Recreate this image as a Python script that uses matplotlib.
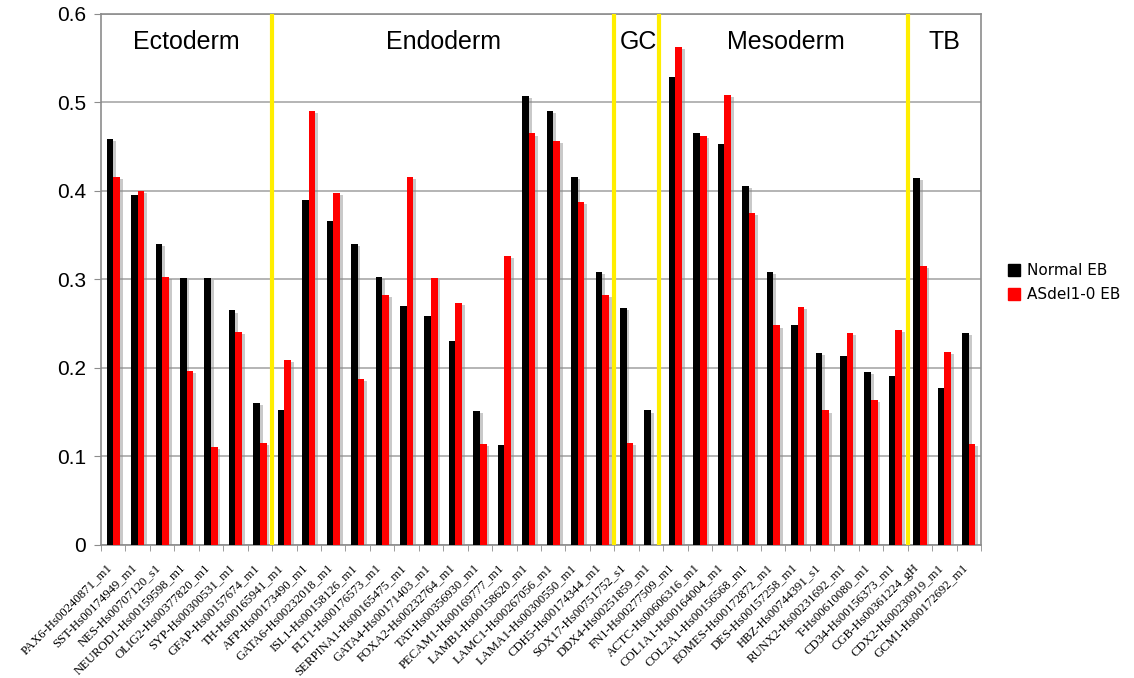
import matplotlib
matplotlib.use("Agg")
import matplotlib.pyplot as plt
import matplotlib.patheffects as pe
from matplotlib.patches import Patch
from matplotlib.transforms import ScaledTranslation
import numpy as np

genes = ["PAX6-Hs00240871_m1", "SST-Hs00174949_m1", "NES-Hs00707120_s1",
         "NEUROD1-Hs00159598_m1", "OLIG2-Hs00377820_m1", "SYP-Hs00300531_m1",
         "GFAP-Hs00157674_m1", "TH-Hs00165941_m1", "AFP-Hs00173490_m1",
         "GATA6-Hs00232018_m1", "ISL1-Hs00158126_m1", "FLT1-Hs00176573_m1",
         "SERPINA1-Hs00165475_m1", "GATA4-Hs00171403_m1", "FOXA2-Hs00232764_m1",
         "TAT-Hs00356930_m1", "PECAM1-Hs00169777_m1", "LAMB1-Hs00158620_m1",
         "LAMC1-Hs00267056_m1", "LAMA1-Hs00300550_m1", "CDH5-Hs00174344_m1",
         "SOX17-Hs00751752_s1", "DDX4-Hs00251859_m1", "FN1-Hs00277509_m1",
         "ACTC-Hs00606316_m1", "COL1A1-Hs00164004_m1", "COL2A1-Hs00156568_m1",
         "EOMES-Hs00172872_m1", "DES-Hs00157258_m1", "HBZ-Hs00744391_s1",
         "RUNX2-Hs00231692_m1", "T-Hs00610080_m1", "CD34-Hs00156373_m1",
         "CGB-Hs00361224_gH", "CDX2-Hs00230919_m1", "GCM1-Hs00172692_m1"]

normal_eb = [0.459, 0.396, 0.340, 0.302, 0.302, 0.265, 0.160, 0.152, 0.390,
             0.366, 0.340, 0.303, 0.270, 0.259, 0.231, 0.151, 0.113, 0.507,
             0.490, 0.416, 0.309, 0.268, 0.152, 0.529, 0.465, 0.453, 0.406,
             0.308, 0.248, 0.217, 0.214, 0.195, 0.191, 0.415, 0.177, 0.240]
asdel_eb = [0.416, 0.400, 0.303, 0.197, 0.111, 0.241, 0.115, 0.209, 0.490,
            0.398, 0.188, 0.283, 0.416, 0.302, 0.273, 0.114, 0.327, 0.465,
            0.457, 0.388, 0.283, 0.115, 0.0, 0.563, 0.462, 0.508, 0.375,
            0.248, 0.269, 0.152, 0.240, 0.164, 0.243, 0.315, 0.218, 0.114]

layers = ["Ectoderm", "Endoderm", "GC", "Mesoderm", "TB"]
layer_sizes = [7, 14, 2, 10, 3]

fig = plt.figure(figsize=(11.34, 6.78), dpi=100)
ax = fig.add_axes([0.0891, 0.1962, 0.776, 0.7832])

x = np.arange(len(genes))
w = 0.27
shadow = [pe.SimplePatchShadow(offset=(2, -1.5), shadow_rgbFace="#888888", alpha=0.45), pe.Normal()]
b1 = ax.bar(x - w / 2, normal_eb, w, color="black", zorder=3)
b2 = ax.bar(x + w / 2, asdel_eb, w, color="#ff0000", zorder=3)
for bar in list(b1) + list(b2):
    bar.set_path_effects(shadow)

ax.set_xlim(-0.5, len(genes) - 0.5)
ax.set_ylim(0, 0.6)
ax.set_yticks(np.arange(0, 0.61, 0.1))
ax.set_yticklabels(["0", "0.1", "0.2", "0.3", "0.4", "0.5", "0.6"],
                   fontsize=15, family="Liberation Sans")
ax.grid(axis="y", color="#a8a8a8", lw=1.2, zorder=0)
ax.set_axisbelow(True)
for s in ax.spines.values():
    s.set_color("#8c8c8c")
    s.set_linewidth(1.2)
ax.tick_params(axis="y", length=5, color="#8c8c8c", pad=6)

# gene names under the bars, tick marks on the category borders
ax.set_xticks(x)
ax.set_xticklabels(genes, rotation=45, ha="right", rotation_mode="anchor",
                   fontsize=9.2, family="Liberation Serif")
ax.tick_params(axis="x", which="major", length=0, pad=12)
ax.set_xticks(np.arange(-0.5, len(genes), 1), minor=True)
ax.tick_params(axis="x", which="minor", length=4, color="#8c8c8c")
shift = ScaledTranslation(-5 / 72, 0, fig.dpi_scale_trans)
for lab in ax.get_xticklabels():
    lab.set_transform(lab.get_transform() + shift)

# germ layer separators and names
start = 0
for i, (name, n) in enumerate(zip(layers, layer_sizes)):
    mid = start + (n - 1) / 2
    ax.text(mid, 0.568, name, ha="center", va="center", fontsize=18,
            family="Liberation Sans", zorder=5)
    if i < len(layers) - 1:
        pos = start + n - 0.5
        if name == "GC":
            pos -= 0.17
        ax.axvline(pos, color="#ffee00", lw=3, zorder=4)
    start += n

handles = [Patch(color="black"), Patch(color="#ff0000")]
fig.legend(handles, ["Normal EB", "ASdel1-0 EB"], loc="center left",
           bbox_to_anchor=(0.877, 0.583), frameon=False, fontsize=11,
           handlelength=0.8, handleheight=0.8, handletextpad=0.4,
           labelspacing=0.6)

fig.savefig("out.png", dpi=100, facecolor="white")
